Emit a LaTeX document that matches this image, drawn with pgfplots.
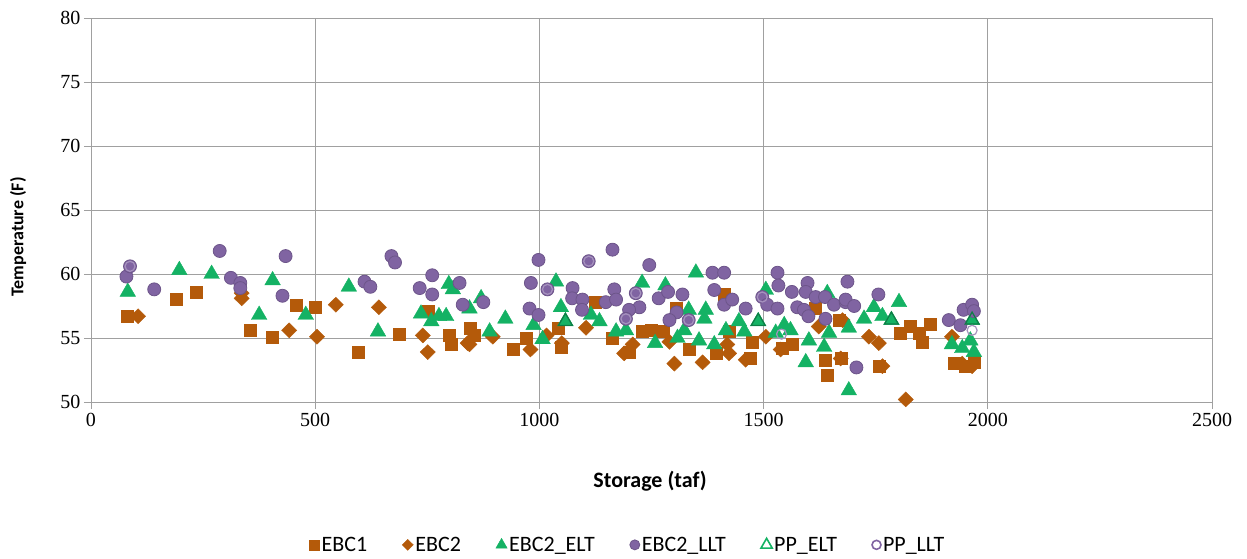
\documentclass[border=0pt]{standalone}
\usepackage{pgfplots}
\pgfplotsset{compat=1.18}
\usepackage{pgfplotstable}
\usepackage{fontspec}
\setmainfont{Carlito}
\newfontfamily\tickfont{Liberation Serif}
\definecolor{cbrown}{RGB}{180,90,10}
\definecolor{cgreen}{RGB}{20,178,100}
\definecolor{cpurple}{RGB}{128,100,162}
\definecolor{cgrid}{RGB}{160,160,160}

\pgfplotstableread{
x y
80 56.7
189 58.0
235 58.6
356 55.6
405 55.1
458 57.6
501 57.4
595 53.9
687 55.3
751 57.1
798 55.2
803 54.5
846 55.8
855 55.2
941 54.1
970 55.0
1043 55.8
1048 54.3
1125 57.8
1163 55.0
1200 53.9
1230 55.5
1249 55.6
1275 55.5
1304 57.3
1334 54.1
1394 53.8
1412 58.4
1423 55.5
1471 53.4
1475 54.7
1542 54.2
1564 54.5
1616 57.3
1638 53.3
1642 52.1
1668 56.4
1672 53.4
1757 52.8
1805 55.4
1828 55.9
1846 55.4
1854 54.7
1872 56.1
1924 53.0
1950 52.8
1969 53.1
}\ebcone

\pgfplotstableread{
x y
105 56.7
336 58.1
336 58.5
442 55.6
504 55.1
546 57.6
642 57.4
740 55.2
751 53.9
840 54.6
844 54.5
896 55.1
980 54.1
1016 55.2
1050 54.6
1104 55.8
1189 53.8
1208 54.5
1290 54.7
1301 53.0
1364 53.1
1419 54.5
1423 53.8
1460 53.3
1505 55.1
1538 54.1
1623 55.9
1672 53.4
1676 56.4
1735 55.1
1757 54.6
1765 52.8
1817 50.2
1920 55.1
1943 53.0
1965 52.8
}\ebctwo

\pgfplotstableread{
x y
82 58.6
197 60.3
269 60.0
375 56.8
405 59.5
479 56.8
575 59.0
640 55.5
736 56.9
759 56.3
776 56.7
792 56.7
798 59.2
807 58.8
844 57.3
870 58.1
889 55.5
924 56.5
987 56.0
1007 54.9
1037 59.4
1048 57.4
1058 56.3
1115 56.8
1134 56.3
1171 55.5
1193 55.6
1229 59.3
1258 54.6
1281 59.1
1308 55.0
1323 55.6
1333 57.2
1349 60.1
1356 54.8
1368 56.5
1371 57.2
1390 54.5
1416 55.6
1445 56.3
1457 55.5
1488 56.3
1505 58.75
1527 55.4
1546 56.0
1560 55.6
1594 53.1
1601 54.8
1635 54.3
1642 58.5
1646 55.4
1690 50.9
1690 55.8
1724 56.5
1746 57.4
1765 56.7
1785 56.4
1802 57.8
1920 54.5
1943 54.2
1961 54.8
1969 53.9
1965 56.4
}\ebctwoelt

\pgfplotstableread{
x y
79 59.8
87 60.6
141 58.8
287 61.8
312 59.7
333 59.3
333 58.9
434 61.4
427 58.3
610 59.4
623 59.0
670 61.4
678 60.9
733 58.9
761 59.9
761 58.4
822 59.3
829 57.6
875 57.8
998 61.1
981 59.3
978 57.3
998 56.8
1018 58.8
1074 58.9
1073 58.1
1096 58.0
1095 57.2
1110 61.0
1148 57.8
1163 61.9
1167 58.8
1171 58.0
1215 58.5
1223 57.4
1200 57.2
1193 56.5
1245 60.7
1266 58.1
1287 58.6
1319 58.4
1306 57.0
1290 56.4
1333 56.4
1386 60.1
1412 60.1
1390 58.75
1412 57.6
1430 58.0
1460 57.3
1497 58.2
1508 57.6
1531 60.1
1533 59.1
1531 57.3
1563 58.6
1575 57.4
1590 57.2
1598 59.3
1594 58.6
1600 56.7
1616 58.2
1637 58.2
1638 56.5
1657 57.6
1683 57.8
1687 59.4
1683 58.0
1702 57.5
1756 58.4
1707 52.7
1913 56.4
1939 56.0
1946 57.2
1965 57.6
1969 57.1
}\ebctwollt

\pgfplotstableread{
x y
1058 56.3
1488 56.3
1785 56.4
1965 56.4
}\ppelt

\pgfplotstableread{
x y
87 60.6
1018 58.8
1110 61.0
1193 56.5
1215 58.5
1333 56.4
1497 58.2
1540 55.3
1965 55.6
}\ppllt

\begin{document}
\begin{tikzpicture}
\path[use as bounding box] (-91pt,-157pt) rectangle (1156pt,402pt);
\begin{axis}[
  scale only axis, width=1121pt, height=384pt,
  xmin=0, xmax=2500, ymin=50, ymax=80,
  xtick={0,500,...,2500}, ytick={50,55,...,80},
  xtick pos=left, ytick pos=left,
  grid=major,
  major grid style={draw=cgrid, line width=0.9pt},
  axis line style={draw=cgrid, line width=0.9pt},
  tick align=outside, major tick length=7pt,
  tick style={draw=cgrid, line width=0.9pt},
  /pgf/number format/assume math mode=true,
  /pgf/number format/1000 sep={},
  tick label style={font=\tickfont\fontsize{20}{20}\selectfont},
  xticklabel style={yshift=-1pt},
  xlabel={Storage (taf)}, ylabel={Temperature (F)},
  xlabel style={font=\bfseries\fontsize{22}{22}\selectfont, at={(axis description cs:0.4987,-0.207)}, anchor=center},
  ylabel style={font=\bfseries\fontsize{18}{18}\selectfont, at={(axis description cs:-0.0651,0.43)}, anchor=center, rotate=0},
  legend columns=6,
  legend style={draw=none, fill=none, font=\fontsize{22}{22}\selectfont,
    at={(0.479,-0.372)}, anchor=center,
    /tikz/every even column/.append style={column sep=33pt}},
  legend cell align=left,
]
\addplot[only marks, mark=square*, mark size=6pt, mark options={fill=cbrown, draw=cbrown}, legend image post style={mark size=5pt}] table {\ebcone};
\addlegendentry{EBC1}
\addplot[only marks, mark=diamond*, mark size=7.5pt, mark options={fill=cbrown, draw=cbrown, xscale=1.35}, legend image post style={mark size=5.5pt}] table {\ebctwo};
\addlegendentry{EBC2}
\addplot[only marks, mark=triangle*, mark size=9pt, mark options={fill=cgreen, draw=cgreen}, legend image post style={mark size=6.5pt}] table {\ebctwoelt};
\addlegendentry{EBC2\_ELT}
\addplot[only marks, mark=*, mark size=6.5pt, mark options={fill=cpurple, draw=cpurple!85!black, line width=0.8pt}, legend image post style={mark size=5pt}] table {\ebctwollt};
\addlegendentry{EBC2\_LLT}
\addplot[only marks, mark=triangle, mark size=8pt, mark options={draw=cgreen!70!black, line width=1.2pt}, legend image post style={mark size=6.5pt, mark options={draw=cgreen, fill=white, line width=1.6pt}}] table {\ppelt};
\addlegendentry{PP\_ELT}
\addplot[only marks, mark=o, mark size=5pt, mark options={draw=cpurple!70!white, line width=1.2pt}, legend image post style={mark size=4.5pt, mark options={draw=cpurple, fill=white, line width=1.6pt}}] table {\ppllt};
\addlegendentry{PP\_LLT}
\end{axis}
\end{tikzpicture}
\end{document}
